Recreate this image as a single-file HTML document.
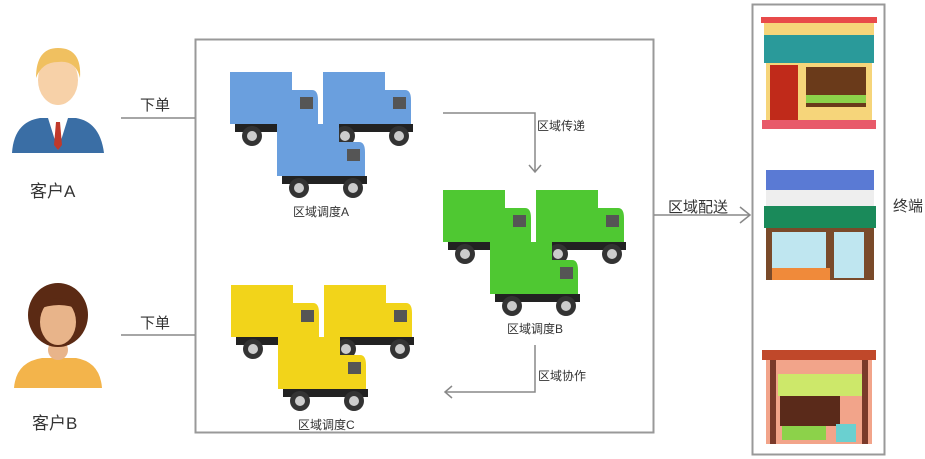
<!DOCTYPE html><html><head><meta charset="utf-8"><style>body{margin:0;background:#fff}svg{display:block;font-family:"Liberation Sans","Noto Sans CJK SC",sans-serif}</style></head><body>
<svg width="925" height="459" viewBox="0 0 925 459">
<defs>
<g id="tk">
<rect x="0" y="0" width="62" height="52" fill="currentColor"/>
<path d="M60 18 H82 Q88 18 88 28 V57 H60 Z" fill="currentColor"/>
<rect x="70" y="25" width="13" height="12" fill="#555"/>
<rect x="5" y="52" width="85" height="8" fill="#222"/>
<circle cx="22" cy="64" r="10" fill="#333"/><circle cx="22" cy="64" r="5" fill="#ccc"/>
<circle cx="76" cy="64" r="10" fill="#333"/><circle cx="76" cy="64" r="5" fill="#ccc"/>
</g>
<g id="tr"><use href="#tk" x="0" y="0"/><use href="#tk" x="93" y="0"/><use href="#tk" x="47" y="52"/></g>
</defs>
<rect x="195.5" y="39.5" width="458" height="393" fill="none" stroke="#999" stroke-width="2"/>
<rect x="752.5" y="4.5" width="132" height="450" fill="none" stroke="#999" stroke-width="2"/>
<g color="#6a9fde"><use href="#tr" x="230" y="72"/></g>
<g color="#4fc832"><use href="#tr" x="443" y="190"/></g>
<g color="#f2d41a"><use href="#tr" x="231" y="285"/></g>
<g font-size="12" fill="#333">
<text x="293" y="216">区域调度A</text><text x="507" y="333">区域调度B</text><text x="298" y="429">区域调度C</text>
<text x="537" y="130">区域传递</text><text x="538" y="380">区域协作</text>
</g>
<g stroke="#888" stroke-width="1.5" fill="none">
<path d="M443 113 H535 V172"/><path d="M529 165 L535 172 L541 165"/>
<path d="M535 345 V392 H445"/><path d="M452 386 L445 392 L452 398"/>
<path d="M121 118 H195"/><path d="M121 335 H195"/>
<path d="M654 215 H750"/><path d="M740 207 L750 215 L740 223"/>
</g>
<g font-size="15" fill="#333">
<text x="140" y="110">下单</text><text x="140" y="328">下单</text>
<text x="668" y="212">区域配送</text><text x="893" y="211">终端</text>
<text x="30" y="197" font-size="17">客户A</text><text x="32" y="429" font-size="17">客户B</text>
</g>
<!-- person A -->
<path d="M12 153 Q14 122 40 118 H76 Q100 122 104 153 Z" fill="#3a6ea5"/>
<path d="M48 118 L58 150 L68 118 Z" fill="#fff"/><path d="M56 122 L60 122 L62 145 L58 150 L54 145Z" fill="#c0392b"/>
<ellipse cx="58" cy="80" rx="20" ry="25" fill="#f7d1a8"/>
<path d="M36 78 Q36 48 58 48 Q82 48 80 78 Q76 60 58 62 Q42 62 36 78Z" fill="#f0c060"/>
<!-- person B -->
<path d="M14 388 Q16 362 42 358 H76 Q100 362 102 388 Z" fill="#f3b44b"/>
<ellipse cx="58" cy="350" rx="10" ry="10" fill="#e8b48a"/>
<ellipse cx="58" cy="315" rx="30" ry="32" fill="#5b2a14"/>
<ellipse cx="58" cy="322" rx="18" ry="23" fill="#e8b48a"/>
<path d="M36 310 Q58 286 80 310 Q60 300 36 310Z" fill="#5b2a14"/>
<!-- shops -->
<g>
<rect x="761" y="17" width="116" height="6" fill="#e84a4a"/><rect x="764" y="23" width="110" height="12" fill="#f6d57a"/>
<rect x="764" y="35" width="110" height="28" fill="#2a9a9a"/><rect x="766" y="63" width="106" height="60" fill="#f6d57a"/>
<rect x="770" y="65" width="28" height="60" fill="#c02a1a"/><rect x="806" y="67" width="60" height="40" fill="#6a3a1a"/>
<rect x="806" y="95" width="60" height="8" fill="#8cd24a"/><rect x="762" y="120" width="114" height="9" fill="#e85a6a"/>
</g>
<g>
<rect x="766" y="170" width="108" height="20" fill="#5a7ad4"/><rect x="766" y="190" width="108" height="16" fill="#eee"/>
<rect x="764" y="206" width="112" height="22" fill="#1a8a5a"/><rect x="766" y="228" width="108" height="52" fill="#7a4a2a"/>
<rect x="772" y="232" width="54" height="36" fill="#bfe6f0"/><rect x="834" y="232" width="30" height="46" fill="#bfe6f0"/>
<rect x="772" y="268" width="58" height="12" fill="#f08a3a"/>
</g>
<g>
<rect x="762" y="350" width="114" height="10" fill="#c0482a"/><rect x="766" y="360" width="106" height="84" fill="#f2a48a"/>
<rect x="778" y="374" width="84" height="22" fill="#cde86a"/><rect x="780" y="396" width="60" height="30" fill="#5a2a1a"/>
<rect x="770" y="360" width="6" height="84" fill="#7a3a2a"/><rect x="862" y="360" width="6" height="84" fill="#7a3a2a"/>
<rect x="782" y="426" width="44" height="14" fill="#8cd24a"/><rect x="836" y="424" width="20" height="18" fill="#6ad0d0"/>
</g>
</svg></body></html>
